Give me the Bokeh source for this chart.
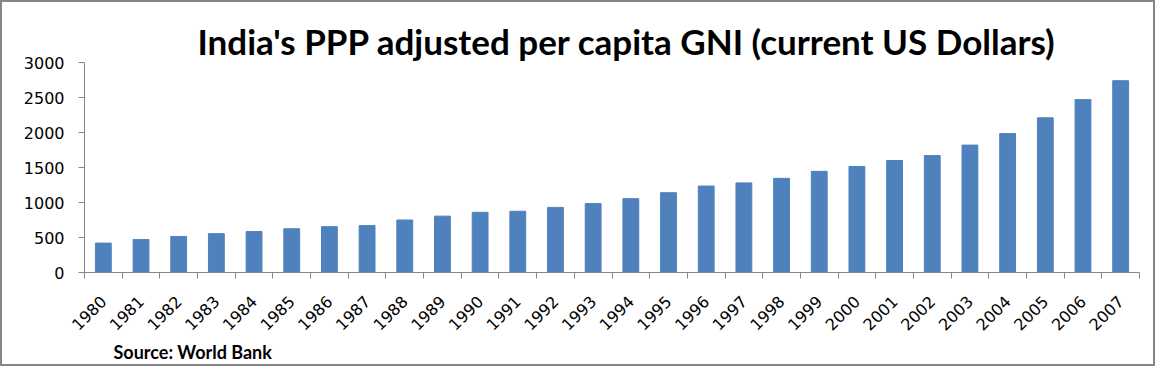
from bokeh.plotting import figure
from bokeh.models import Range1d, FixedTicker, CustomJSTickFormatter, Title
from bokeh.embed import file_html
from bokeh.resources import INLINE
import math

years = ["1980", "1981", "1982", "1983", "1984", "1985", "1986", "1987", "1988", "1989",
         "1990", "1991", "1992", "1993", "1994", "1995", "1996", "1997", "1998", "1999",
         "2000", "2001", "2002", "2003", "2004", "2005", "2006", "2007"]
gni = [420, 470, 515, 555, 585, 625, 655, 670, 750, 805, 860, 875, 930, 985, 1055, 1140,
       1235, 1280, 1345, 1445, 1515, 1600, 1670, 1820, 1985, 2210, 2470, 2740]
y_ticks = [0, 500, 1000, 1500, 2000, 2500, 3000]

title_text = "India's PPP adjusted per capita GNI (current US Dollars)"
source_text = "Source: World Bank"

n = len(years)
centers = [i + 0.5 for i in range(n)]
bounds = list(range(n + 1))

p = figure(width=1155, height=366, output_backend="svg", toolbar_location=None,
           x_range=Range1d(0, n), y_range=Range1d(0, 3000),
           min_border_left=82, min_border_right=18, min_border_top=60, min_border_bottom=96,
           styles={"border": "2px solid #868686"})
p.outline_line_color = None
p.grid.visible = False
p.background_fill_color = "white"
p.border_fill_color = "white"

p.vbar(x=centers, top=gni, width=0.42, color="#4F81BD")

axis_col = "#868686"
xa = p.xaxis[0]
xa.ticker = FixedTicker(ticks=centers, minor_ticks=bounds)
xa.formatter = CustomJSTickFormatter(args=dict(labels=years), code="return labels[Math.floor(tick)];")
xa.axis_line_color = axis_col
xa.major_tick_in = 0
xa.major_tick_out = 0
xa.minor_tick_in = 0
xa.minor_tick_out = 6
xa.minor_tick_line_color = axis_col
xa.major_label_orientation = math.pi / 4
xa.major_label_standoff = 20
xa.major_label_text_font = "DejaVu Sans"
xa.major_label_text_font_size = "16px"
xa.major_label_text_color = "black"

ya = p.yaxis[0]
ya.ticker = FixedTicker(ticks=y_ticks)
ya.axis_line_color = axis_col
ya.major_tick_line_color = axis_col
ya.major_tick_in = 0
ya.major_tick_out = 6
ya.minor_tick_line_color = None
ya.major_label_standoff = 14
ya.major_label_text_font = "DejaVu Sans"
ya.major_label_text_font_size = "16px"
ya.major_label_text_color = "black"

p.title = Title(text=title_text, align="left", offset=113, standoff=2,
                text_font="Lato", text_font_style="bold", text_font_size="35px",
                text_color="black")

src = Title(text=source_text, align="left", offset=29, standoff=0,
            text_font="Lato", text_font_style="bold", text_font_size="18px",
            text_color="black")
p.add_layout(src, "below")

open("out.html", "w").write(file_html(p, INLINE))
